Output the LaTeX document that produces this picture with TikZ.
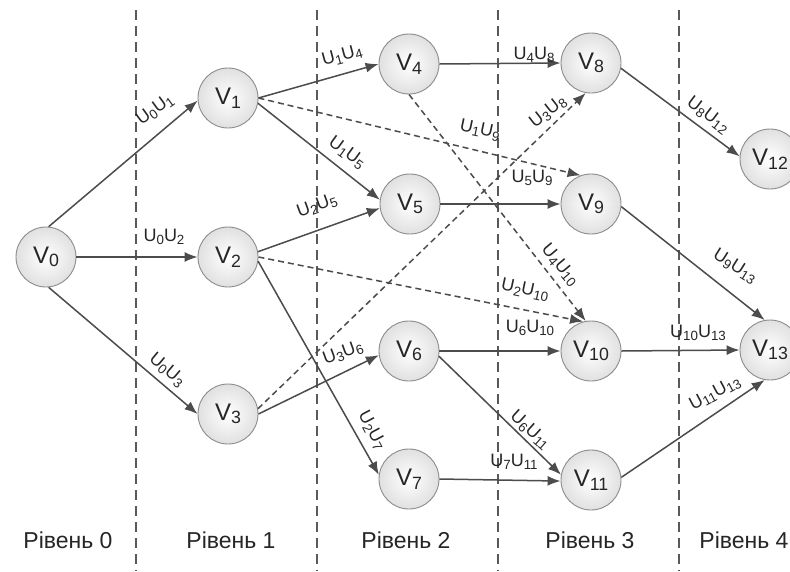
\documentclass[tikz,border=0pt]{standalone}
\usepackage{fontspec}
\setmainfont{Liberation Sans}
\usetikzlibrary{arrows.meta}
\newcommand\ssub[1]{\raisebox{-0.15em}{\scalebox{0.74}{#1}}}
\newcommand\UU[2]{U\ssub{#1}U\ssub{#2}}
\newcommand\VV[1]{V\ssub{#1}}
\begin{document}
\begin{tikzpicture}[x=1pt,y=-1pt,
 vert/.style={circle, draw=black!45, line width=0.9pt, inner color=white, outer color=black!12, minimum size=60pt, inner sep=0pt, font=\fontsize{24}{26}\selectfont, text=black!85},
 edge/.style={draw=black!70, line width=1.5pt, -{Latex[length=13pt,width=10pt]}},
 dedge/.style={edge, dash pattern=on 6pt off 4pt},
 lbl/.style={font=\fontsize{18}{20}\selectfont, text=black!85, inner sep=0pt},
 levellbl/.style={font=\fontsize{23}{25}\selectfont, text=black!85},
 sep/.style={draw=black!65, line width=1.3pt, dash pattern=on 10pt off 6pt}]
\useasboundingbox[fill=white] (0,0) rectangle (790,571);

% level separators
\foreach \i/\x in {1/136,2/317,3/498,4/679}{
  \coordinate (st\i) at (\x,10);
  \coordinate (sb\i) at (\x,571);
  \draw[sep] (st\i) -- (sb\i);
}

% vertices
\node[vert] (v0) at (46,257) {\VV{0}};
\node[vert] (v1) at (228,98) {\VV{1}};
\node[vert] (v2) at (228,257) {\VV{2}};
\node[vert] (v3) at (228,414) {\VV{3}};
\node[vert] (v4) at (409,64) {\VV{4}};
\node[vert] (v5) at (410,204) {\VV{5}};
\node[vert] (v6) at (409,351) {\VV{6}};
\node[vert] (v7) at (409,479) {\VV{7}};
\node[vert] (v8) at (591,63) {\VV{8}};
\node[vert] (v9) at (591,204) {\VV{9}};
\node[vert] (v10) at (591,351) {\VV{10}};
\node[vert] (v11) at (591,480) {\VV{11}};
\node[vert] (v12) at (770,159) {\VV{12}};
\node[vert] (v13) at (770,350) {\VV{13}};

% solid edges
\draw[edge] (v0.85) -- (v1.185);
\draw[edge] (v0.east) -- (v2.west);
\draw[edge] (v0.-85) -- (v3.west);
\draw[edge] (v1.east) -- (v4.west);
\draw[edge] (v1.-10) -- (v5.172);
\draw[edge] (v2.10) -- (v5.188);
\draw[edge] (v2.-8) -- (v7.172);
\draw[edge] (v3.east) -- (v6.188);
\draw[edge] (v4.east) -- (v8.west);
\draw[edge] (v5.east) -- (v9.west);
\draw[edge] (v6.east) -- (v10.west);
\draw[edge] (v6.-10) -- (v11.170);
\draw[edge] (v7.east) -- (v11.182);
\draw[edge] (v8.-10) -- (v12.175);
\draw[edge] (v9.-5) -- (v13.100);
\draw[edge] (v10.east) -- (v13.west);
\draw[edge] (v11.5) -- (v13.260);

% dashed edges
\draw[dedge] (v1.east) -- (v9.110);
\draw[dedge] (v2.east) -- (v10.105);
\draw[dedge] (v3.10) -- (v8.260);
\draw[dedge] (v4.south) -- (v10.100);

% edge labels
\node[lbl, rotate=36] (l01) at (155,110) {\UU{0}{1}};
\node[lbl] (l02) at (164,237) {\UU{0}{2}};
\node[lbl, rotate=-40] (l03) at (167,370) {\UU{0}{3}};
\node[lbl, rotate=15] (l14) at (342,56) {\UU{1}{4}};
\node[lbl, rotate=-36] (l15) at (347,153) {\UU{1}{5}};
\node[lbl, rotate=20] (l25) at (317,206) {\UU{2}{5}};
\node[lbl, rotate=-62] (l27) at (372,430) {\UU{2}{7}};
\node[lbl, rotate=20] (l36) at (343,353) {\UU{3}{6}};
\node[lbl] (l48) at (534,55) {\UU{4}{8}};
\node[lbl, rotate=-12] (l19) at (480,130) {\UU{1}{9}};
\node[lbl, rotate=38] (l38) at (548,112) {\UU{3}{8}};
\node[lbl] (l59) at (532,178) {\UU{5}{9}};
\node[lbl, rotate=-50] (l410) at (560,265) {\UU{4}{10}};
\node[lbl, rotate=-12] (l210) at (525,290) {\UU{2}{10}};
\node[lbl] (l610) at (530,328) {\UU{6}{10}};
\node[lbl, rotate=-42] (l611) at (530,430) {\UU{6}{11}};
\node[lbl] (l711) at (514,462) {\UU{7}{11}};
\node[lbl, rotate=-37] (l812) at (708,115) {\UU{8}{12}};
\node[lbl, rotate=-32] (l913) at (735,266) {\UU{9}{13}};
\node[lbl] (l1013) at (698,333) {\UU{10}{13}};
\node[lbl, rotate=28] (l1113) at (715,393) {\UU{11}{13}};

% level labels
\node[levellbl] (r0) at (68,540) {Рівень 0};
\node[levellbl] (r1) at (231,540) {Рівень 1};
\node[levellbl] (r2) at (406,540) {Рівень 2};
\node[levellbl] (r3) at (590,540) {Рівень 3};
\node[levellbl] (r4) at (744,540) {Рівень 4};
\end{tikzpicture}
\end{document}
